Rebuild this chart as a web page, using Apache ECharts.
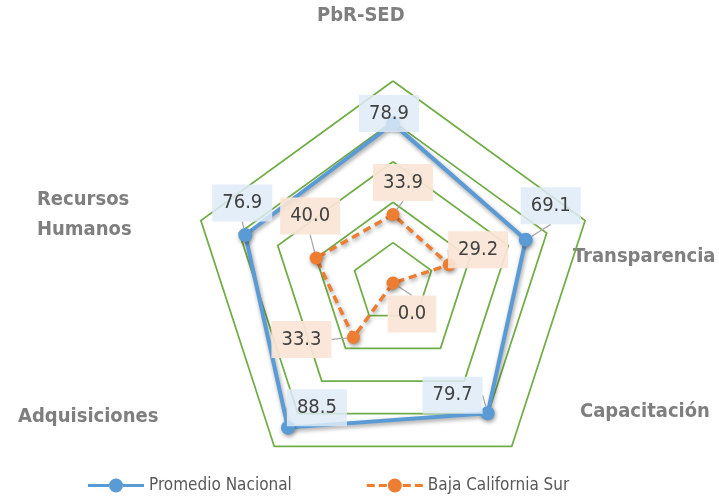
<!DOCTYPE html>
<html><head><meta charset="utf-8">
<script src="https://cdn.jsdelivr.net/npm/echarts@6/dist/echarts.min.js"></script>
<style>html,body{margin:0;padding:0;background:#fff}#c{width:719px;height:500px}</style>
</head><body><div id="c"></div>
<script>
// ---- data ----
const indicators = ['PbR-SED', 'Recursos Humanos', 'Adquisiciones', 'Capacitación', 'Transparencia'];
const seriesNames = ['Promedio Nacional', 'Baja California Sur'];
const promedioNacional = [78.9, 76.9, 88.5, 79.7, 69.1];
const bajaCaliforniaSur = [33.9, 40.0, 33.3, 0.0, 29.2];
const axisMax = 100;
const ringCount = 5;

// ---- styling ----
const FONT = "'DejaVu Sans Condensed','Liberation Sans',sans-serif";
const colors = ['#5b9bd5', '#ed7d31'];
const labelBg = ['rgba(222,235,247,0.85)', 'rgba(251,229,214,0.92)'];
// label box offsets from their point (dx, dy), per series, per indicator
const labelOffsets = [
  [[-4, -10], [-3, -32], [29, -20], [-35, -18], [25, -34]],
  [[10, -32], [-6, -42], [-52, 2], [19, 31], [29, -15]]
];
// axis-name placements (x, y) per indicator
const namePos = [[317, 16], [37, 215], [18, 417], [580, 412], [573, 257]];

const allValues = [promedioNacional, bajaCaliforniaSur];
const chart = echarts.init(document.getElementById('c'), null, {renderer: 'canvas'});

const shadow = {shadowColor: 'rgba(0,0,0,0.4)', shadowBlur: 4, shadowOffsetX: 1, shadowOffsetY: 2};

function makeSeries(k, lineType, width, symSize) {
  return {
    type: 'radar',
    z: 2 + k,
    symbol: 'circle',
    symbolSize: symSize,
    itemStyle: Object.assign({color: colors[k]}, shadow),
    lineStyle: Object.assign({color: colors[k], width: width, type: lineType}, shadow),
    label: {
      show: true,
      position: 'inside',
      formatter: p => Number(p.value).toFixed(1),
      fontFamily: FONT,
      fontSize: 20,
      color: '#404040',
      backgroundColor: labelBg[k],
      padding: [9, 10, 8, 10]
    },
    labelLine: {show: true, lineStyle: {color: '#a6a6a6', width: 1.2}},
    labelLayout: function (params) {
      const vals = allValues[params.seriesIndex];
      const i = vals.findIndex(v => v.toFixed(1) === params.text);
      const o = labelOffsets[params.seriesIndex][i < 0 ? 0 : i];
      return {dx: o[0], dy: o[1]};
    },
    data: [{name: seriesNames[k], value: allValues[k]}]
  };
}

const iconSolid = 'path://M0,5.5L21,5.5L21,8.5L0,8.5Z M35,5.5L56,5.5L56,8.5L35,8.5Z M21,7A7,7 0 1,1 35,7A7,7 0 1,1 21,7Z';
const iconDashed = 'path://M0,5.5L8,5.5L8,8.5L0,8.5Z M12,5.5L20,5.5L20,8.5L12,8.5Z M21,7A7,7 0 1,1 35,7A7,7 0 1,1 21,7Z M36,5.5L44,5.5L44,8.5L36,8.5Z M48,5.5L56,5.5L56,8.5L48,8.5Z';

chart.setOption({
  animation: false,
  backgroundColor: '#ffffff',
  radar: {
    center: [393, 283],
    radius: 202,
    startAngle: 90,
    shape: 'polygon',
    splitNumber: ringCount,
    indicator: indicators.map(n => ({name: n, min: 0, max: axisMax})),
    axisName: {show: false},
    axisLine: {show: false},
    axisTick: {show: false},
    axisLabel: {show: false},
    splitLine: {lineStyle: {color: '#70ad47', width: 1.75}},
    splitArea: {show: false}
  },
  legend: {
    left: 83,
    top: 472,
    itemWidth: 56,
    itemHeight: 14,
    itemGap: 75,
    itemStyle: {borderWidth: 0},
    textStyle: {fontFamily: FONT, fontSize: 17, color: '#595959'},
    data: [
      {name: seriesNames[0], icon: iconSolid},
      {name: seriesNames[1], icon: iconDashed}
    ]
  },
  graphic: indicators.map((n, i) => ({
    type: 'text',
    x: namePos[i][0],
    y: namePos[i][1],
    style: {
      text: i === 1 ? n.replace(' ', '\n') : n,
      fontFamily: FONT,
      fontWeight: 'bold',
      fontSize: 20,
      lineHeight: 30,
      fill: '#7f7f7f',
      align: 'left',
      verticalAlign: 'middle'
    }
  })),
  series: [makeSeries(0, 'solid', 4, 14), makeSeries(1, [8, 5], 3.5, 13)]
});
</script>
</body></html>
